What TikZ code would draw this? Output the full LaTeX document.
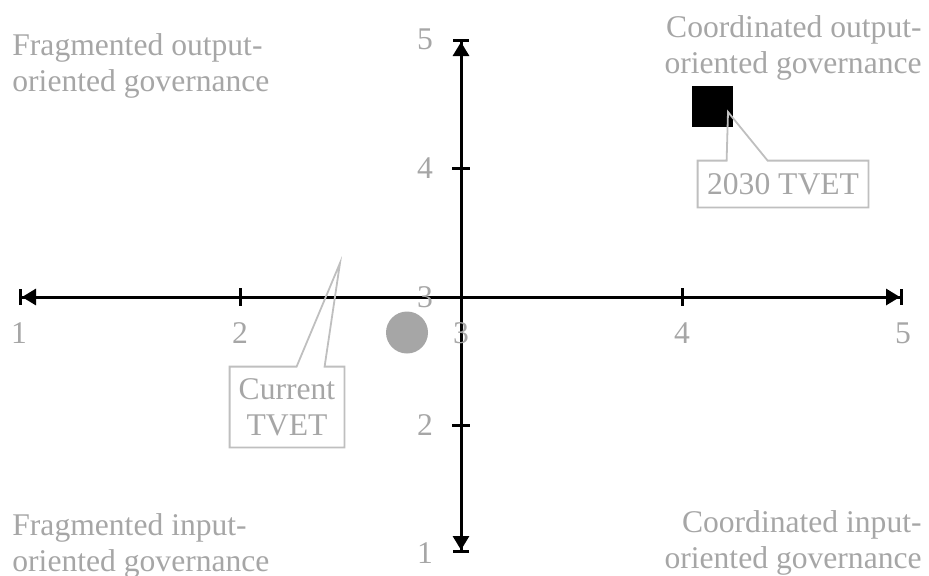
\documentclass[tikz,border=0pt]{standalone}
\usepackage{xcolor}
\usepackage{fontspec}
\setmainfont{Liberation Serif}
\usetikzlibrary{positioning,arrows.meta}

\definecolor{grisTexto}{RGB}{166,166,166}
\definecolor{grisLinea}{RGB}{191,191,191}

\begin{document}
\begin{tikzpicture}[x=0.5pt, y=-0.5pt,
    etiqueta/.style={text=grisTexto, font=\fontsize{15.8}{18}\selectfont, inner sep=0pt},
    eje/.style={line width=1.5pt, {Bar[width=8pt]Triangle[length=7pt,width=8pt]}-{Triangle[length=7pt,width=8pt]Bar[width=8pt]}},
    llamada/.style={draw=grisLinea, line width=0.9pt}]
    \useasboundingbox (0,0) rectangle (929,575);

    % Extremos de los ejes
    \coordinate (xmin) at (19,297);
    \coordinate (xmax) at (903,297);
    \coordinate (ymin) at (461,553);
    \coordinate (ymax) at (461,39);
    \draw[eje] (xmin) -- (xmax);
    \draw[eje] (ymin) -- (ymax);

    % Marcas de los ejes
    \foreach \x in {240, 682} {
        \draw[line width=1.5pt] (\x,288) -- (\x,306);
    }
    \foreach \y in {168, 425} {
        \draw[line width=1.5pt] (452,\y) -- (470,\y);
    }

    % Numeros de los ejes
    \foreach \v/\x in {1/19, 2/240, 3/461, 4/682, 5/903} {
        \node[etiqueta] (nx\v) at (\x,333) {\v};
    }
    \foreach \v/\y in {1/553, 2/425, 3/297, 4/168, 5/39} {
        \node[etiqueta] (ny\v) at (425,\y) {\v};
    }

    % Cuadrantes
    \node[etiqueta, align=left, anchor=north west] (fragSal) at (12,33) {Fragmented output-\\oriented governance};
    \node[etiqueta, align=right, anchor=north east] (coorSal) at (922,15) {Coordinated output-\\oriented governance};
    \node[etiqueta, align=left, anchor=north west] (fragEnt) at (12,513) {Fragmented input-\\oriented governance};
    \node[etiqueta, align=right, anchor=north east] (coorEnt) at (922,510) {Coordinated input-\\oriented governance};

    % Puntos
    \node[fill=black, minimum size=20.5pt, inner sep=0pt] (meta) at (712.5,106.5) {};
    \node[circle, fill=grisTexto, minimum size=21pt, inner sep=0pt] (actual) at (407,332.5) {};

    % Llamadas
    \node[etiqueta, minimum width=85pt, minimum height=23pt] (c2030) at (783,184) {2030 TVET};
    \coordinate (p2030) at (728,112);
    \draw[llamada] (c2030.north west) -- ++(29,0) -- (p2030) -- ([xshift=35pt]c2030.north west)
        -- (c2030.north east) -- (c2030.south east) -- (c2030.south west) -- cycle;

    \node[etiqueta, align=center, minimum width=57pt, minimum height=40pt] (cActual) at (287,407) {Current\\TVET};
    \coordinate (pActual) at (340,263);
    \draw[llamada] (cActual.north west) -- ++(67,0) -- (pActual) -- ([xshift=47.5pt]cActual.north west)
        -- (cActual.north east) -- (cActual.south east) -- (cActual.south west) -- cycle;

\end{tikzpicture}
\end{document}
